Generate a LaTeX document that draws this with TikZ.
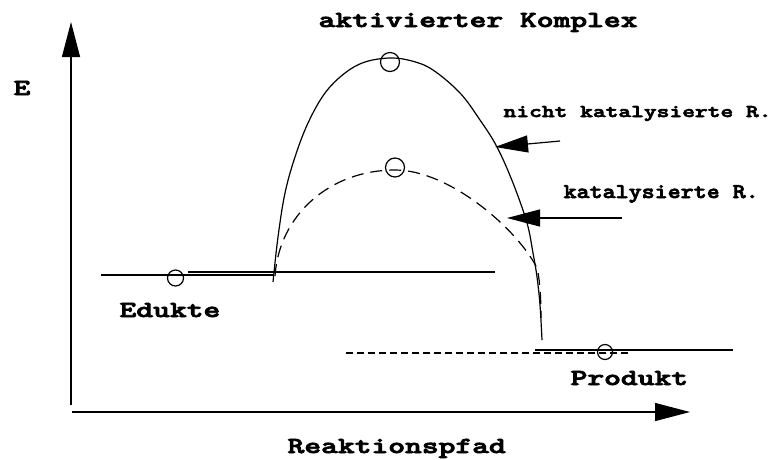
\documentclass[tikz,border=0pt]{standalone}
\usetikzlibrary{arrows.meta}
\font\fbig="[lmmonolt10-bold]:embolden=3" at 23pt
\font\fkat="[lmmonolt10-bold]:embolden=3" at 21pt
\font\fnk="[lmmonolt10-bold]:embolden=3" at 18pt
\newcommand{\lab}[3]{\scalebox{#2}[1]{#1#3}}
\begin{document}
\begin{tikzpicture}[x=1pt,y=-1pt,line width=1.2pt,
  lbl/.style={anchor=base west,inner sep=0pt},
  axis/.style={-{Triangle[length=35pt,width=18pt]}},
  ptr/.style={-{Triangle[length=33pt,width=17pt]}},
  marker/.style={circle,draw,line width=1.2pt,inner sep=0pt,minimum size=#1},
  dashcurve/.style={dash pattern=on 12pt off 7pt},
  dashline/.style={dash pattern=on 7pt off 4pt}]
\useasboundingbox (0,0) rectangle (781,459);
% axes
\coordinate (yb) at (71,405);
\coordinate (yt) at (71,22);
\coordinate (xl) at (72,412);
\coordinate (xr) at (690,412);
\draw[axis] (yb) -- (yt);
\draw[axis] (xl) -- (xr);
% labels
\node[lbl] (E) at (13,95) {\lab{\fbig}{1.39}{E}};
\node[lbl] (ak) at (318,27) {\lab{\fbig}{1.39}{aktivierter Komplex}};
\node[lbl] (nk) at (503,117) {\lab{\fnk}{1.35}{nicht katalysierte R.}};
\node[lbl] (kt) at (563,198) {\lab{\fkat}{1.18}{katalysierte R.}};
\node[lbl] (ed) at (119,317) {\lab{\fbig}{1.39}{Edukte}};
\node[lbl] (pr) at (570,385) {\lab{\fbig}{1.39}{Produkt}};
\node[lbl] (rp) at (287,453) {\lab{\fbig}{1.39}{Reaktionspfad}};
% educt levels
\coordinate (e1a) at (101,275);
\coordinate (e1b) at (273,275);
\coordinate (e2a) at (188,272);
\coordinate (e2b) at (495,272);
\draw (e1a) -- (e1b);
\draw (e2a) -- (e2b);
% product levels
\coordinate (p1a) at (535,350);
\coordinate (p1b) at (733,350);
\coordinate (p2a) at (346,353);
\coordinate (p2b) at (631,353);
\draw (p1a) -- (p1b);
\draw[dashline] (p2a) -- (p2b);
% uncatalysed curve
\draw plot[smooth,tension=0.6] coordinates {(273,282) (278,237) (285,193) (295,157) (308,123) (325,93) (345,73) (365,62) (390,58) (412,61) (433,70) (460,93) (480,120) (497,147) (513,183) (527,223) (533,253) (537,277) (540,305) (542,340)};
% catalysed curve
\coordinate (c0) at (275,276);
\coordinate (c1) at (395,170);
\coordinate (c2) at (537,268);
\coordinate (c3) at (541,318);
\draw[dashcurve] (c0) .. controls (279,215) and (330,170) .. (c1)
  .. controls (450,170) and (518,230) .. (c2)
  .. controls (540,280) and (541,300) .. (c3);
% markers
\node[marker=19pt] (m1) at (390,62) {};
\node[marker=19pt] (m2) at (395,167.5) {};
\node[marker=16pt] (m3) at (175.5,278) {};
\node[marker=15pt] (m4) at (605,352) {};
% pointers
\coordinate (a1s) at (560,141);
\coordinate (a1e) at (495,147);
\coordinate (a2s) at (622,218);
\coordinate (a2e) at (507,218);
\draw[ptr] (a1s) -- (a1e);
\draw[ptr] (a2s) -- (a2e);
\end{tikzpicture}
\end{document}
